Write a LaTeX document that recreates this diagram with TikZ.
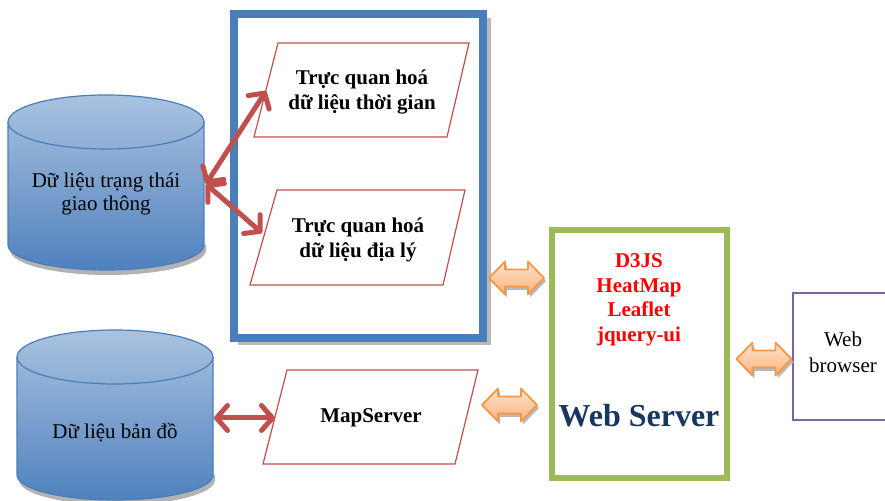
\documentclass[tikz,border=0pt]{standalone}
\usepackage{fontspec}
\setmainfont{Liberation Serif}
\usetikzlibrary{arrows.meta}
\definecolor{dbblue}{HTML}{4F81BD}
\definecolor{dbedge}{HTML}{4A7EBB}
\definecolor{dblight}{HTML}{A9C2E0}
\definecolor{panelblue}{HTML}{4A7EBB}
\definecolor{linkred}{HTML}{C0504D}
\definecolor{srvgreen}{HTML}{9BBB59}
\definecolor{libred}{HTML}{FF0000}
\definecolor{srvnavy}{HTML}{17375E}
\definecolor{browserpurple}{HTML}{8064A2}
\definecolor{orangeedge}{HTML}{F79646}
\definecolor{orangelight}{HTML}{FDE4CF}
\definecolor{orangedark}{HTML}{F9B37A}
\tikzset{
  dbtext/.style={font=\fontsize{21}{22.5}\selectfont, align=center, text=black},
  vistext/.style={font=\fontsize{21}{25}\selectfont\bfseries, align=center, text=black},
  paraframe/.style={draw=linkred, line width=1.2pt, fill=white},
  redlink/.style={draw=linkred, line width=5pt,
    {Straight Barb[length=11pt,width=25pt,round]}-{Straight Barb[length=11pt,width=25pt,round]}},
  dblarrow/.pic={
    \fill[gray!55] (-25.5,-3) -- (-9.5,-19.5) -- (-9.5,-12) -- (13.5,-12) -- (13.5,-19.5) -- (29.5,-3)
       -- (13.5,13.5) -- (13.5,6) -- (-9.5,6) -- (-9.5,13.5) -- cycle;
    \draw[draw=orangeedge, line width=1.8pt, line join=round, top color=orangelight, bottom color=orangedark]
      (-27.5,0) -- (-11.5,16.5) -- (-11.5,8.5) -- (11.5,8.5) -- (11.5,16.5) -- (27.5,0)
      -- (11.5,-16.5) -- (11.5,-8.5) -- (-11.5,-8.5) -- (-11.5,-16.5) -- cycle;
  }
}
\begin{document}
\begin{tikzpicture}[x=1pt,y=1pt]
\useasboundingbox (0,0) rectangle (885,500);
\clip (0,0) rectangle (885,500);

% ---- database cylinders ----
% traffic state data
\fill[gray!60] (10,255) -- (10,250) arc[start angle=180,end angle=360,x radius=98pt,y radius=25pt] -- (206,255) -- cycle;
\path[top color=dblight, bottom color=dbblue, draw=dbedge, line width=1.2pt]
  (8,378) -- (8,255) arc[start angle=180,end angle=360,x radius=98pt,y radius=25pt]
  -- (204,378) arc[start angle=0,end angle=180,x radius=98pt,y radius=27pt] -- cycle;
\draw[dbedge, line width=1.2pt] (8,378) arc[start angle=180,end angle=360,x radius=98pt,y radius=27pt];
\node[dbtext] (traffic) at (106,306) {Dữ liệu trạng thái\\giao thông};
\coordinate (trafficE) at (206,316);

% map data
\fill[gray!60] (19,25) -- (19,20) arc[start angle=180,end angle=360,x radius=98pt,y radius=25pt] -- (215,25) -- cycle;
\path[top color=dblight, bottom color=dbblue, draw=dbedge, line width=1.2pt]
  (17,143) -- (17,25) arc[start angle=180,end angle=360,x radius=98pt,y radius=25pt]
  -- (213,143) arc[start angle=0,end angle=180,x radius=98pt,y radius=27pt] -- cycle;
\draw[dbedge, line width=1.2pt] (17,143) arc[start angle=180,end angle=360,x radius=98pt,y radius=27pt];
\node[dbtext] (mapdata) at (115,67) {Dữ liệu bản đồ};
\coordinate (mapdataE) at (214,82);

% ---- visualisation panel ----
\draw[gray!55, line width=8pt] (238,159) -- (487,159) -- (487,482);
\draw[panelblue, line width=8pt] (234,162) rectangle (483,486);

\draw[paraframe] (254,363) -- (447,363) -- (469,457) -- (278,457) -- cycle;
\node[vistext] (timevis) at (362,408) {Trực quan hoá\\dữ liệu thời gian};
\coordinate (timevisW) at (266,409);

\draw[paraframe] (250,215) -- (443,215) -- (465,310) -- (277,310) -- cycle;
\node[vistext] (geovis) at (358,260) {Trực quan hoá\\dữ liệu địa lý};
\coordinate (geovisW) at (262,267);

% ---- map server ----
\draw[paraframe] (263,36) -- (455,36) -- (478,130) -- (287,130) -- cycle;
\node[vistext] (mapserver) at (371,82) {MapServer};
\coordinate (mapserverW) at (275,82);

% ---- web server ----
\draw[srvgreen, line width=6pt] (551.5,22) rectangle (726.5,270);
\node[font=\fontsize{21}{24.5}\selectfont\bfseries, text=libred, align=center] (libs) at (639,200)
  {D3JS\\HeatMap\\Leaflet\\jquery-ui};
\node[font=\fontsize{32}{36}\selectfont\bfseries, text=srvnavy] (webserver) at (639,84) {Web Server};

% ---- web browser ----
\draw[browserpurple, line width=1.8pt] (900,207) -- (793,207) -- (793,80) -- (900,80);
\node[dbtext, font=\fontsize{21}{26}\selectfont] (browser) at (843,148) {Web\\browser};

% ---- links ----
\draw[redlink] (trafficE) -- (timevisW);
\draw[redlink] (trafficE) -- (geovisW);
\draw[redlink] (mapdataE) -- (mapserverW);

\pic at (516.5,222) {dblarrow};
\pic at (509.5,95) {dblarrow};
\pic at (764,141) {dblarrow};
\end{tikzpicture}
\end{document}
